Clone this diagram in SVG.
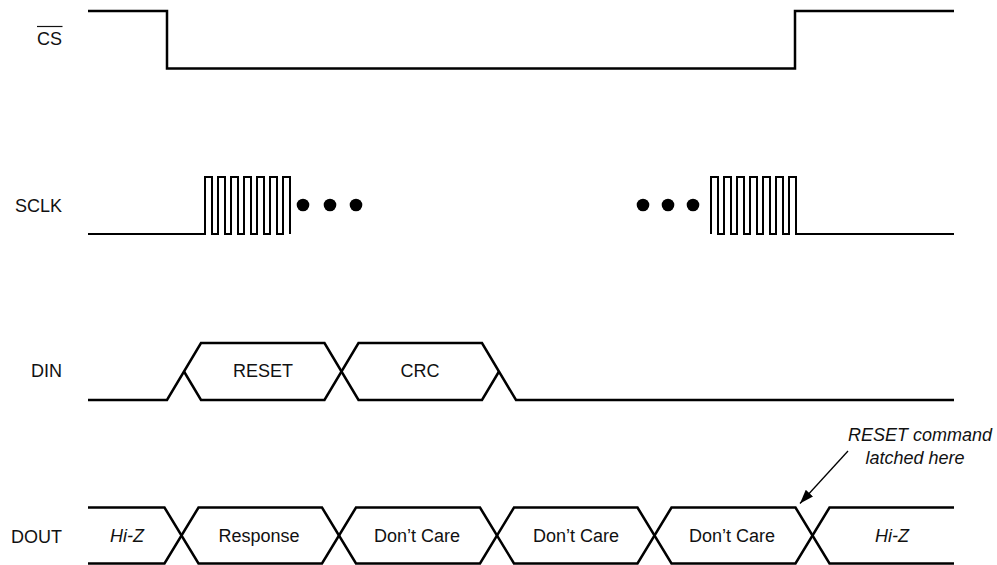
<svg xmlns="http://www.w3.org/2000/svg" width="997" height="565" viewBox="0 0 997 565">
<style>
.sig{fill:none;stroke:#000;stroke-width:2.5;stroke-linejoin:miter;stroke-linecap:butt}
.clk{fill:none;stroke:#000;stroke-width:2;stroke-linejoin:miter}
.lbl{font-family:"Liberation Sans",Arial,sans-serif;font-size:18px;fill:#111;text-anchor:end}
.t{font-family:"Liberation Sans",Arial,sans-serif;font-size:18px;fill:#111;text-anchor:middle}
.i{font-style:italic}
</style>
<defs>
<marker id="ah" viewBox="0 0 14 10" refX="14" refY="5" markerWidth="14" markerHeight="10" markerUnits="userSpaceOnUse" orient="auto">
<path d="M0,0 L14,5 L0,10 Z" fill="#000"/>
</marker>
</defs>
<rect width="997" height="565" fill="#fff"/>
<g id="labels">
<text class="lbl" x="62" y="45">CS</text>
<line x1="37" y1="26.5" x2="62.5" y2="26.5" stroke="#111" stroke-width="1.2"/>
<text class="lbl" x="62" y="212">SCLK</text>
<text class="lbl" x="62" y="377">DIN</text>
<text class="lbl" x="62" y="543">DOUT</text>
</g>
<g id="cs">
<path class="sig" d="M88,11 H167 V68.5 H795 V11 H954"/>
</g>
<g id="sclk">
<path class="clk" d="M88,234 H205 V177 H212 V234 H218 V177 H225 V234 H231 V177 H238 V234 H244 V177 H251 V234 H257 V177 H264 V234 H270 V177 H277 V234 H283 V177 H290 V234"/>
<circle cx="303" cy="205" r="6.3"/>
<circle cx="330" cy="205" r="6.3"/>
<circle cx="356" cy="205" r="6.3"/>
<circle cx="643" cy="205" r="6.3"/>
<circle cx="668" cy="205" r="6.3"/>
<circle cx="693" cy="205" r="6.3"/>
<path class="clk" d="M711,234 V177 H718 V234 H724 V177 H731 V234 H737 V177 H744 V234 H750 V177 H757 V234 H763 V177 H770 V234 H776 V177 H783 V234 H789 V177 H796 V234 H954"/>
</g>
<g id="din">
<path class="sig" d="M88,400 H167 L201,343 H324.5 L358.5,400 H482 L499,371.5"/>
<path class="sig" d="M184,371.5 L201,400 H324.5 L358.5,343 H482 L516,400 H954"/>
<text class="t" x="263" y="377">RESET</text>
<text class="t" x="420" y="377">CRC</text>
</g>
<g id="dout">
<path class="sig" d="M88,507.5 H164.5 L198.5,563.5 H322 L356,507.5 H480 L514,563.5 H637.5 L671.5,507.5 H795.5 L829.5,563.5 H954"/>
<path class="sig" d="M88,563.5 H164.5 L198.5,507.5 H322 L356,563.5 H480 L514,507.5 H637.5 L671.5,563.5 H795.5 L829.5,507.5 H954"/>
<text class="t i" x="127" y="542">Hi-Z</text>
<text class="t" x="259" y="542">Response</text>
<text class="t" x="417" y="542">Don’t Care</text>
<text class="t" x="576" y="542">Don’t Care</text>
<text class="t" x="732" y="542">Don’t Care</text>
<text class="t i" x="892" y="542">Hi-Z</text>
</g>
<g id="annotation">
<text class="t i" x="920" y="441">RESET command</text>
<text class="t i" x="915" y="464">latched here</text>
</g>
<g id="connectors">
<line x1="848" y1="451" x2="800" y2="503.5" stroke="#000" stroke-width="1.3" marker-end="url(#ah)"/>
</g>
</svg>
